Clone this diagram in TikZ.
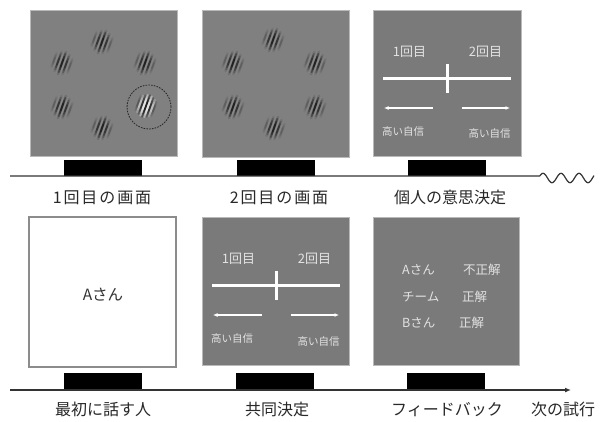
\documentclass[tikz,border=0pt]{standalone}
\usepackage{fontspec}
\setmainfont{Noto Sans CJK JP}
\usetikzlibrary{arrows.meta}
\definecolor{scr}{RGB}{128,128,128}
\definecolor{scrd}{RGB}{122,122,122}
\definecolor{scrbd}{RGB}{185,185,185}
\definecolor{intxt}{RGB}{226,226,226}
\definecolor{lblc}{RGB}{40,40,40}
\tikzset{
  screen/.style={draw=scrbd, line width=0.8pt, fill=scr, inner sep=0pt, outer sep=0pt},
  blank/.style={draw=black!45, line width=1.1pt, fill=white, inner sep=0pt, outer sep=0pt},
  bar/.style={fill=black, minimum width=78pt, inner sep=0pt, outer sep=0pt},
  lbl/.style={font=\fontsize{16pt}{18pt}\selectfont, text=lblc, inner sep=0pt},
  lblsp/.style={font=\fontsize{16pt}{18pt}\selectfont\addfontfeature{LetterSpace=12}, text=lblc, inner sep=0pt},
  intext/.style={font=\fontsize{13pt}{15pt}\selectfont, text=intxt, inner sep=0pt},
  conf/.style={font=\fontsize{10.5pt}{12pt}\selectfont, text=intxt, inner sep=0pt},
  fb/.style={font=\fontsize{12.5pt}{14pt}\selectfont, text=intxt, inner sep=0pt, anchor=west},
  tl/.style={line width=1.2pt, draw=black!80},
  wline/.style={draw=white, line width=2.6pt},
  warrow/.style={draw=white, line width=1.4pt, -{Latex[length=4.5pt,width=4pt]}},
  gabor/.pic={
    \foreach \o/\w/\L in {-8.4/0.25/15, -4.2/0.7/20, 0/1/23, 4.2/0.7/20, 8.4/0.25/15}{
      \pgfmathsetmacro\op{0.32*\w}
      \pgfmathsetmacro\ob{0.12*\w}
      \draw[line width=3.2pt, draw=black, draw opacity=\ob, line cap=round]
          ({\o*0.94-\L/2*0.34},{\o*0.34+\L/2*0.94}) --
          ({\o*0.94+\L/2*0.34},{\o*0.34-\L/2*0.94});
      \foreach \f in {0.85,0.6,0.35}{
        \draw[line width=1.8pt, draw=black, draw opacity=\op, line cap=round]
          ({\o*0.94-\f*\L/2*0.34},{\o*0.34+\f*\L/2*0.94}) --
          ({\o*0.94+\f*\L/2*0.34},{\o*0.34-\f*\L/2*0.94});
      }
    }
    \foreach \o/\w/\L in {-6.3/0.45/18, -2.1/0.9/22, 2.1/0.9/22, 6.3/0.45/18}{
      \pgfmathsetmacro\op{0.06*\w}
      \foreach \f in {1,0.6}{
        \draw[line width=1.8pt, draw=white, draw opacity=\op, line cap=round]
          ({\o*0.94-\f*\L/2*0.34},{\o*0.34+\f*\L/2*0.94}) --
          ({\o*0.94+\f*\L/2*0.34},{\o*0.34-\f*\L/2*0.94});
      }
    }
  },
  gaborhi/.pic={
    \foreach \o/\w/\L in {-8.4/0.3/15, -4.2/0.7/20, 0/1/23, 4.2/0.7/20, 8.4/0.3/15}{
      \pgfmathsetmacro\op{0.36*\w}
      \foreach \f in {1,0.68,0.38}{
        \draw[line width=1.9pt, draw=black, draw opacity=\op, line cap=round]
          ({\o*0.94-\f*\L/2*0.34},{\o*0.34+\f*\L/2*0.94}) --
          ({\o*0.94+\f*\L/2*0.34},{\o*0.34-\f*\L/2*0.94});
      }
    }
    \foreach \o/\w/\L in {-6.3/0.5/18, -2.1/1/22, 2.1/1/22, 6.3/0.5/18}{
      \pgfmathsetmacro\op{0.4*\w}
      \foreach \f in {1,0.68,0.38}{
        \draw[line width=1.9pt, draw=white, draw opacity=\op, line cap=round]
          ({\o*0.94-\f*\L/2*0.34},{\o*0.34+\f*\L/2*0.94}) --
          ({\o*0.94+\f*\L/2*0.34},{\o*0.34-\f*\L/2*0.94});
      }
    }
  },
  decision/.pic={
    \node[intext] (-t1) at (36.5,42) {1回目};
    \node[intext] (-t2) at (112.5,42) {2回目};
    \coordinate (-hl) at (10,68.5);
    \coordinate (-hr) at (138,68.5);
    \coordinate (-vt) at (74.5,54);
    \coordinate (-vb) at (74.5,83);
    \draw[wline] (-hl) -- (-hr);
    \draw[wline] (-vt) -- (-vb);
    \coordinate (-la) at (59.5,98);
    \coordinate (-lb) at (11,98);
    \coordinate (-ra) at (88.5,98);
    \coordinate (-rb) at (137,98);
    \draw[warrow] (-la) -- (-lb);
    \draw[warrow] (-ra) -- (-rb);
    \node[conf] (-c1) at (30,121.5) {高い自信};
    \node[conf] (-c2) at (116.5,124) {高い自信};
  }
}
\begin{document}
\begin{tikzpicture}[x=1pt,y=-1pt]
\useasboundingbox[fill=white] (0,0) rectangle (600,421);

% ---------- top row ----------
\node[screen, minimum width=147pt, minimum height=146pt] (s1) at (103.5,83) {};
\node[screen, minimum width=147pt, minimum height=147pt] (s2) at (275.5,83.5) {};
\node[screen, fill=scrd, minimum width=148pt, minimum height=146pt] (s3) at (447,83) {};

% gabor patches, first screen
\pic at (102,42) {gabor};
\pic at (62,63) {gabor};
\pic at (145,63) {gabor};
\pic at (62,107) {gabor};
\pic at (102,128) {gabor};
\pic at (146,106) {gaborhi};
\node[circle, draw=black!85, line width=0.8pt, dash pattern=on 1.6pt off 1.2pt, minimum size=44pt, inner sep=0pt] (hi) at (149,107) {};

% gabor patches, second screen
\pic at (273,40) {gabor};
\pic at (233,63) {gabor};
\pic at (315,63) {gabor};
\pic at (233,107) {gabor};
\pic at (315,107) {gabor};
\pic at (274,128) {gabor};

% individual decision screen
\pic (d1) at (373,10) {decision};

% bars and timeline
\node[bar, minimum height=16pt] (b1) at (103,168) {};
\node[bar, minimum height=16pt] (b2) at (275.5,168) {};
\node[bar, minimum height=16pt] (b3) at (447,168) {};
\coordinate (ta) at (10,176);
\coordinate (tb) at (540,176);
\draw[tl] (ta) -- (tb) plot[domain=540:594, samples=80, smooth] (\x,{178-4.7*cos(20*(\x-543))});

\node[lblsp] (l1) at (102,197.5) {1回目の画面};
\node[lblsp] (l2) at (279,197.5) {2回目の画面};
\node[lbl] (l3) at (450,197.5) {個人の意思決定};

% ---------- bottom row ----------
\node[blank, minimum width=147pt, minimum height=150pt] (u1) at (102.5,292) {};
\node[font=\fontsize{15.5pt}{17pt}\selectfont, text=black!80, inner sep=0pt] (ua) at (103,295) {Aさん};
\node[screen, fill=scrd, minimum width=147pt, minimum height=148pt] (u2) at (275.5,291) {};
\node[screen, fill=scrd, minimum width=146pt, minimum height=148pt] (u3) at (446,291) {};

\pic (d2) at (202,217) {decision};

\node[fb] (f1) at (402,270) {Aさん};
\node[fb] (f2) at (463,270) {不正解};
\node[fb] (f3) at (402,297) {チーム};
\node[fb] (f4) at (462,297) {正解};
\node[fb] (f5) at (402,323) {Bさん};
\node[fb] (f6) at (459,323) {正解};

\node[bar, minimum height=17pt] (c1) at (102.5,381.5) {};
\node[bar, minimum height=17pt] (c2) at (275,381.5) {};
\node[bar, minimum height=17pt] (c3) at (446,381.5) {};
\coordinate (ba) at (10,390);
\coordinate (bb) at (571,390);
\draw[tl, -{Latex[length=6pt,width=5pt]}] (ba) -- (bb);

\node[lbl] (m1) at (103,409.5) {最初に話す人};
\node[lbl] (m2) at (277,409.5) {共同決定};
\node[lbl] (m3) at (447,409.5) {フィードバック};
\node[lbl] (m4) at (563,409.5) {次の試行};
\end{tikzpicture}
\end{document}
